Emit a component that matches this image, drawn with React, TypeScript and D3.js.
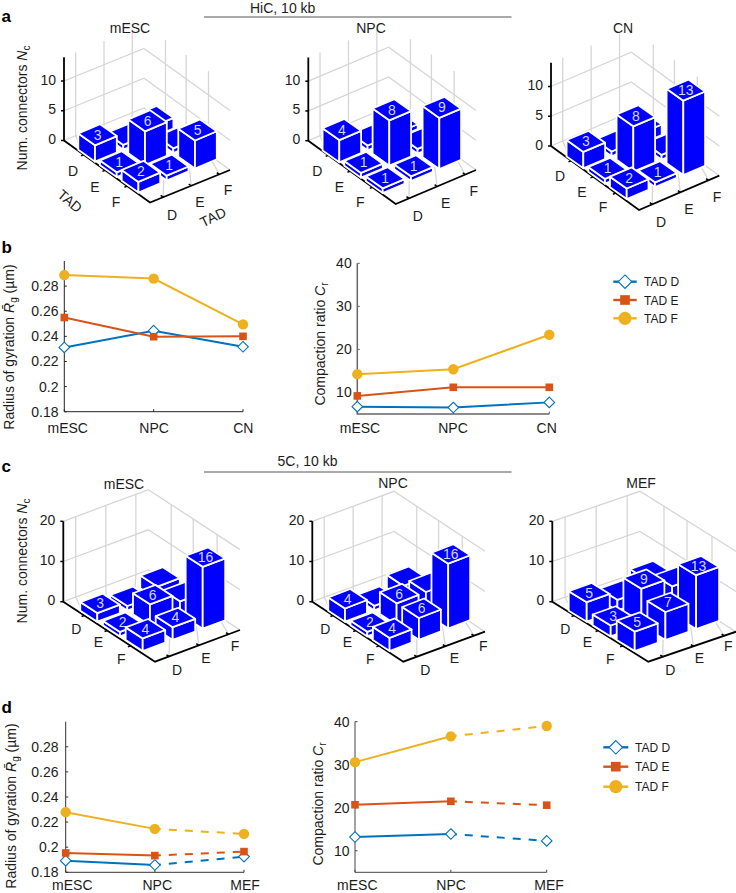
import React from "react";
import * as d3 from "d3";

// ---------- data ----------
const TADS = ["D", "E", "F"];
const hicMesc = [[3, 1, 2], [1, 6, 1], [2, 1, 5]];
const hicNpc = [[4, 1, 1], [1, 8, 1], [1, 1, 9]];
const hicCn = [[3, 1, 2], [1, 8, 1], [2, 1, 13]];
const fiveCMesc = [[3, 2, 4], [2, 6, 4], [4, 4, 16]];
const fiveCNpc = [[4, 2, 4], [2, 6, 6], [4, 6, 16]];
const fiveCMef = [[5, 3, 5], [3, 9, 7], [5, 7, 13]];

const cellsB = ["mESC", "NPC", "CN"];
const rgB_D = [0.2312, 0.2445, 0.2317];
const rgB_E = [0.255, 0.2397, 0.24];
const rgB_F = [0.2888, 0.286, 0.2495];
const crB_D = [6.7, 6.5, 7.7];
const crB_E = [9.2, 11.2, 11.2];
const crB_F = [14.25, 15.4, 23.4];

const cellsD = ["mESC", "NPC", "MEF"];
const rgD_D = [0.1893, 0.1858, 0.1925];
const rgD_E = [0.1954, 0.1933, 0.1965];
const rgD_F = [0.2279, 0.2146, 0.2106];
const crD_D = [13.2, 13.9, 12.3];
const crD_E = [20.7, 21.5, 20.6];
const crD_F = [30.6, 36.6, 39];

const rgTicks = [0.18, 0.2, 0.22, 0.24, 0.26, 0.28];
const crTicks = [10, 20, 30, 40];
const hicZTicks = [0, 5, 10];
const fiveCZTicks = [0, 10, 20];

// ---------- style ----------
const FONT = "'Liberation Sans', Arial, sans-serif";
const INK = "#1c1c1c";
const BLUE = "#0000ff";
const C_D = "#0072BD";
const C_E = "#D95319";
const C_F = "#EDB120";

type P = [number, number];
const add = (a: P, b: P, k = 1): P => [a[0] + b[0] * k, a[1] + b[1] * k];
const sub = (a: P, b: P): P => [a[0] - b[0], a[1] - b[1]];
const poly = d3.line().curve(d3.curveLinearClosed);
const open = d3.line();

// wall grid and tick fractions
const leftGrid = [0.146, 0.5, 0.854];
const rightGrid = [0.25, 0.49, 0.75];
const rowTicks = [0.23, 0.48, 0.735];
const colTicks = [0.165, 0.515, 0.865];

interface Bar3Props {
  title: string; titleX: number; titleY: number;
  matrix: number[][]; zTicks: number[]; zTop: number; zPx: number;
  L: P; B: P; R: P;
  origin: P; row: P; col: P; width: number;
  barUnit: number; barOffset: number;
  rowLab: P[]; colLab: P[];
}

function Bar3({ title, titleX, titleY, matrix, zTicks, zTop, zPx, L, B, R, origin, row, col, width, barUnit, barOffset, rowLab, colLab }: Bar3Props) {
  const K: P = [L[0] + R[0] - B[0], L[1] + R[1] - B[1]];
  const z = d3.scaleLinear().domain([0, zTop]).range([0, zTop * zPx]);
  const barH = d3.scaleLinear().domain([0, 1]).range([-barOffset, barUnit - barOffset]);
  const up = (p: P, h: number): P => [p[0], p[1] - h];
  const lerp = (a: P, b: P, t: number): P => [a[0] + (b[0] - a[0]) * t, a[1] + (b[1] - a[1]) * t];
  const rowStep = sub(B, L), colStep = sub(R, B);
  const rowLen = Math.hypot(rowStep[0], rowStep[1]), colLen = Math.hypot(colStep[0], colStep[1]);

  const gridW = "#d6d6d6";
  const cells: { r: number; c: number; v: number }[] = [];
  for (let r = 0; r < 3; r++) for (let c = 2; c >= 0; c--) cells.push({ r, c, v: matrix[r][c] });

  return (
    <g fontFamily={FONT} fill={INK}>
      {/* walls */}
      {zTicks.map((t) => (
        <path key={t} d={open([up(L, z(t)), up(K, z(t)), up(R, z(t))]) as string} fill="none" stroke={gridW} strokeWidth={1.3} />
      ))}
      {leftGrid.map((t) => {
        const p = lerp(L, K, t);
        return <line key={t} x1={p[0]} y1={p[1]} x2={p[0]} y2={p[1] - z(zTop)} stroke={gridW} strokeWidth={1.3} />;
      })}
      {rightGrid.map((t) => {
        const p = lerp(K, R, t);
        return <line key={t} x1={p[0]} y1={p[1]} x2={p[0]} y2={p[1] - z(zTop)} stroke={gridW} strokeWidth={1.3} />;
      })}
      {/* floor */}
      {rightGrid.map((t, i) => {
        const a = lerp(K, R, t), b = lerp(B, R, colTicks[i]);
        return <line key={t} x1={a[0]} y1={a[1]} x2={b[0]} y2={b[1]} stroke={gridW} strokeWidth={1.3} />;
      })}
      {leftGrid.map((t, i) => {
        const a = lerp(L, K, t), b = lerp(L, B, rowTicks[i]);
        return <line key={t} x1={a[0]} y1={a[1]} x2={b[0]} y2={b[1]} stroke={gridW} strokeWidth={1.3} />;
      })}
      {/* axes */}
      <path d={open([up(L, z(zTop)), L, B, R]) as string} fill="none" stroke="#000" strokeWidth={1.8} />
      {zTicks.map((t) => (
        <g key={t}>
          <line x1={L[0] - 3} x2={L[0]} y1={L[1] - z(t)} y2={L[1] - z(t)} stroke="#000" strokeWidth={1.5} />
          <text x={L[0] - 8} y={L[1] - z(t) + 3.5} textAnchor="end" fontSize={14}>{t}</text>
        </g>
      ))}
      {rowTicks.map((t, i) => {
        const p = lerp(L, B, t);
        const q = add(p, colStep, -3 / colLen);
        return <line key={i} x1={p[0]} y1={p[1]} x2={q[0]} y2={q[1]} stroke="#000" strokeWidth={1.5} />;
      })}
      {colTicks.map((t, i) => {
        const p = lerp(B, R, t);
        const q = add(p, rowStep, -3 / rowLen);
        return <line key={i} x1={p[0]} y1={p[1]} x2={q[0]} y2={q[1]} stroke="#000" strokeWidth={1.5} />;
      })}
      {TADS.map((t, i) => (
        <text key={"r" + t} x={L[0] + rowLab[i][0]} y={L[1] + rowLab[i][1] + 5} textAnchor="middle" fontSize={14}>{t}</text>
      ))}
      {TADS.map((t, i) => (
        <text key={"c" + t} x={B[0] + colLab[i][0]} y={B[1] + colLab[i][1] + 5} textAnchor="middle" fontSize={14}>{t}</text>
      ))}
      {/* bars */}
      {cells.map(({ r, c, v }) => {
        const f = add(add(origin, row, r), col, c);
        const l = add(f, row, -width);
        const rt = add(f, col, width);
        const bk = add(l, col, width);
        const h = barH(v);
        const tf = up(f, h), tl = up(l, h), tr = up(rt, h), tb = up(bk, h);
        const center: P = [(tl[0] + tr[0]) / 2, (tl[1] + tr[1]) / 2];
        return (
          <g key={`${r}-${c}`} stroke="#fff" strokeWidth={1.8} strokeLinejoin="round">
            <path d={poly([l, f, tf, tl]) as string} fill={BLUE} />
            <path d={poly([f, rt, tr, tf]) as string} fill={BLUE} />
            <path d={poly([tl, tf, tr, tb]) as string} fill={BLUE} />
            {r >= c && (
              <text x={center[0]} y={center[1] + 5} textAnchor="middle" fontSize={14} fill="#fff" fillOpacity={0.85} stroke="none">{v}</text>
            )}
          </g>
        );
      })}
      <text x={titleX} y={titleY} textAnchor="middle" fontSize={14}>{title}</text>
    </g>
  );
}

function Marker({ kind, x, y, k = 1 }: { kind: string; x: number; y: number; k?: number }) {
  if (kind === "D") {
    const d = 5.3 * k;
    return <path d={poly([[x, y - d], [x + d, y], [x, y + d], [x - d, y]]) as string} fill="#fff" stroke={C_D} strokeWidth={1.1} />;
  }
  if (kind === "E") return <rect x={x - 3.8 * k} y={y - 3.8 * k} width={7.6 * k} height={7.6 * k} fill={C_E} />;
  return <circle cx={x} cy={y} r={5.2 * k} fill={C_F} />;
}

interface LineProps {
  x0: number; x1: number; yTop: number; yBot: number;
  domain: [number, number]; ticks: number[];
  cats: string[]; catDx: number[]; catY: number;
  labelX: number;
  dashedLast: boolean;
  axisColor: string; axisW: number;
  series: { kind: string; color: string; values: number[] }[];
}

function LineChart({ x0, x1, yTop, yBot, domain, ticks, cats, catDx, catY, labelX, dashedLast, axisColor, axisW, series }: LineProps) {
  const x = d3.scalePoint<string>().domain(cats).range([x0, x1]);
  const y = d3.scaleLinear().domain(domain).range([yBot, yTop]);
  const ln = d3.line<number>().x((_, i) => x(cats[i]) as number).y((d) => y(d));
  return (
    <g fontFamily={FONT} fill={INK}>
      <path d={`M${x0},${yTop}V${yBot}H${x1}`} fill="none" stroke={axisColor} strokeWidth={axisW} />
      {ticks.map((t) => (
        <g key={t}>
          <line x1={x0} x2={x0 + 2.5} y1={y(t)} y2={y(t)} stroke={axisColor} strokeWidth={1} />
          <text x={labelX} y={y(t) + 5} textAnchor="end" fontSize={14}>{t}</text>
        </g>
      ))}
      {cats.map((c, i) => (
        <g key={c}>
          <line x1={x(c)} x2={x(c)} y1={yBot} y2={yBot - 2.5} stroke={axisColor} strokeWidth={1} />
          <text x={(x(c) as number) + catDx[i]} y={catY} textAnchor="middle" fontSize={14}>{c}</text>
        </g>
      ))}
      {series.map((s) => {
        const vals = s.values;
        return (
          <g key={s.kind}>
            {dashedLast ? (
              <>
                <path d={ln(vals.slice(0, 2)) as string} fill="none" stroke={s.color} strokeWidth={2} />
                <line x1={x(cats[1])} y1={y(vals[1])} x2={x(cats[2])} y2={y(vals[2])} stroke={s.color} strokeWidth={2} strokeDasharray="8 8" strokeDashoffset={2} />
              </>
            ) : (
              <path d={ln(vals) as string} fill="none" stroke={s.color} strokeWidth={2} />
            )}
          </g>
        );
      })}
      {series.map((s) => s.values.map((v, i) => <Marker key={s.kind + i} kind={s.kind} x={x(cats[i]) as number} y={y(v)} />))}
    </g>
  );
}

function Legend({ x0, x1, ys, textX }: { x0: number; x1: number; ys: number[]; textX: number }) {
  const items = [["D", C_D, "TAD D"], ["E", C_E, "TAD E"], ["F", C_F, "TAD F"]];
  return (
    <g fontFamily={FONT} fill={INK}>
      {items.map(([k, c, t], i) => (
        <g key={k}>
          <line x1={x0} x2={x1} y1={ys[i]} y2={ys[i]} stroke={c} strokeWidth={2.4} />
          <Marker kind={k} x={(x0 + x1) / 2} y={ys[i]} k={1.27} />
          <text x={textX} y={ys[i] + 4.5} fontSize={12}>{t}</text>
        </g>
      ))}
    </g>
  );
}

function RotText({ x, y, children, size = 14 }: { x: number; y: number; children: React.ReactNode; size?: number }) {
  return (
    <text transform={`translate(${x},${y}) rotate(-90)`} textAnchor="middle" fontFamily={FONT} fontSize={size} fill={INK}>{children}</text>
  );
}

const Rg = ({ x, y }: { x: number; y: number }) => (
  <RotText x={x} y={y}>
    Radius of gyration <tspan fontStyle="italic">{"R\u0304"}</tspan>
    <tspan dy={3} fontSize={10}>g</tspan><tspan dy={-3}> (µm)</tspan>
  </RotText>
);
const Cr = ({ x, y }: { x: number; y: number }) => (
  <RotText x={x} y={y}>
    Compaction ratio <tspan fontStyle="italic">C</tspan><tspan dy={3} fontSize={10}>r</tspan>
  </RotText>
);
const Nc = ({ x, y }: { x: number; y: number }) => (
  <RotText x={x} y={y}>
    Num. connectors <tspan fontStyle="italic">N</tspan><tspan dy={3} fontSize={10}>c</tspan>
  </RotText>
);

const Letter = ({ t, y }: { t: string; y: number }) => (
  <text x={1.5} y={y} fontFamily={FONT} fontWeight="bold" fontSize={17} fill="#000">{t}</text>
);

const rowLabA: P[] = [[9, 30], [31, 46], [52, 61]];
const colLabA: P[] = [[22, 12], [50, -1], [78, -13]];
const rowLabC: P[] = [[13, 27], [35, 40], [58, 57]];
const colLabC: P[] = [[22, 8], [51, -4], [80, -16]];

const seriesOf = (d: number[], e: number[], f: number[]) => [
  { kind: "D", color: C_D, values: d },
  { kind: "E", color: C_E, values: e },
  { kind: "F", color: C_F, values: f },
];

export default function App() {
  const aStep = { row: [21.7, 15.4] as P, col: [28.3, -12] as P, width: 0.77, barUnit: 5.8, barOffset: 1, zTop: 14, zPx: 5.95, zTicks: hicZTicks, rowLab: rowLabA, colLab: colLabA };
  const cCommon = { width: 0.75, zTop: 20, zPx: 4.02, zTicks: fiveCZTicks, rowLab: rowLabC, colLab: colLabC };
  return (
    <svg width={736} height={893} viewBox="0 0 736 893" style={{ position: "absolute", left: 0, top: 0, background: "#fff" }}>
      <Letter t="a" y={22} />
      <Letter t="b" y={253} />
      <Letter t="c" y={472} />
      <Letter t="d" y={713} />

      <text x={250} y={13} fontFamily={FONT} fontSize={14} fill={INK}>HiC, 10 kb</text>
      <line x1={204} x2={511.5} y1={17} y2={17} stroke="#555" strokeWidth={1} />
      <text x={277.5} y={466} fontFamily={FONT} fontSize={14} fill={INK}>5C, 10 kb</text>
      <line x1={204} x2={511.5} y1={472} y2={472} stroke="#555" strokeWidth={1} />

      <Nc x={27} y={108} />
      <Bar3 title="mESC" titleX={130} titleY={33} matrix={hicMesc} L={[64, 140.5]} B={[150, 202.5]} R={[230, 170]} origin={[95, 161.7]} {...aStep} />
      <Bar3 title="NPC" titleX={371} titleY={33} matrix={hicNpc} L={[308.3, 140.7]} B={[395.7, 204]} R={[476, 170]} origin={[339.3, 162.3]} {...aStep} />
      <Bar3 title="CN" titleX={623} titleY={33} matrix={hicCn} L={[551, 146]} B={[639, 210]} R={[719.3, 175.7]} origin={[583.3, 168.3]} {...aStep} />
      <text transform="translate(70,201) rotate(40)" textAnchor="middle" fontFamily={FONT} fontSize={14} fill={INK} dy={5}>TAD</text>
      <text transform="translate(213,217) rotate(-26)" textAnchor="middle" fontFamily={FONT} fontSize={14} fill={INK} dy={5}>TAD</text>

      <Rg x={14} y={347} />
      <LineChart x0={64.3} x1={243} yTop={261} yBot={411.7} domain={[0.18, 0.3]} ticks={rgTicks} cats={cellsB} catDx={[3.4, 0.5, 0.3]} catY={433} labelX={58.5} dashedLast={false} axisColor="#222" axisW={1} series={seriesOf(rgB_D, rgB_E, rgB_F)} />
      <Cr x={325} y={344} />
      <LineChart x0={357.3} x1={549.3} yTop={263.3} yBot={414} domain={[5, 40]} ticks={crTicks} cats={cellsB} catDx={[2.7, -0.3, -2.6]} catY={433} labelX={351.7} dashedLast={false} axisColor="#666" axisW={1.5} series={seriesOf(crB_D, crB_E, crB_F)} />
      <Legend x0={613.3} x1={636.7} ys={[281.7, 300, 318.3]} textX={644} />

      <Nc x={27} y={561} />
      <Bar3 title="mESC" titleX={124} titleY={489} matrix={fiveCMesc} L={[63.3, 601.7]} B={[155, 661.7]} R={[240, 630]} origin={[97.3, 621.7]} row={[22.7, 14.7]} col={[30, -11.2]} barUnit={4.1} barOffset={3.7} {...cCommon} />
      <Bar3 title="NPC" titleX={393} titleY={488} matrix={fiveCNpc} L={[312.3, 601.7]} B={[403.3, 661.7]} R={[485, 631.7]} origin={[345, 621.7]} row={[22.3, 14.7]} col={[29.3, -11.3]} barUnit={4.3} barOffset={4} {...cCommon} />
      <Bar3 title="MEF" titleX={641} titleY={488} matrix={fiveCMef} L={[552.3, 601.7]} B={[648.3, 661.7]} R={[736, 631.7]} origin={[586.7, 621.7]} row={[24, 14.7]} col={[30.7, -11]} barUnit={4.3} barOffset={2} {...cCommon} />

      <Rg x={16} y={806} />
      <LineChart x0={65.7} x1={244} yTop={721.7} yBot={872.3} domain={[0.18, 0.3]} ticks={rgTicks} cats={cellsD} catDx={[6.6, 2.4, 1]} catY={889.8} labelX={58.5} dashedLast={true} axisColor="#333" axisW={1} series={seriesOf(rgD_D, rgD_E, rgD_F)} />
      <Cr x={323} y={804} />
      <LineChart x0={355} x1={546.7} yTop={721.7} yBot={872.3} domain={[5, 40]} ticks={crTicks} cats={cellsD} catDx={[2.3, 0.3, 2.3]} catY={889.8} labelX={349.5} dashedLast={true} axisColor="#444" axisW={1} series={seriesOf(crD_D, crD_E, crD_F)} />
      <Legend x0={603.3} x1={628.3} ys={[747.3, 766.7, 786.7]} textX={635} />
    </svg>
  );
}
